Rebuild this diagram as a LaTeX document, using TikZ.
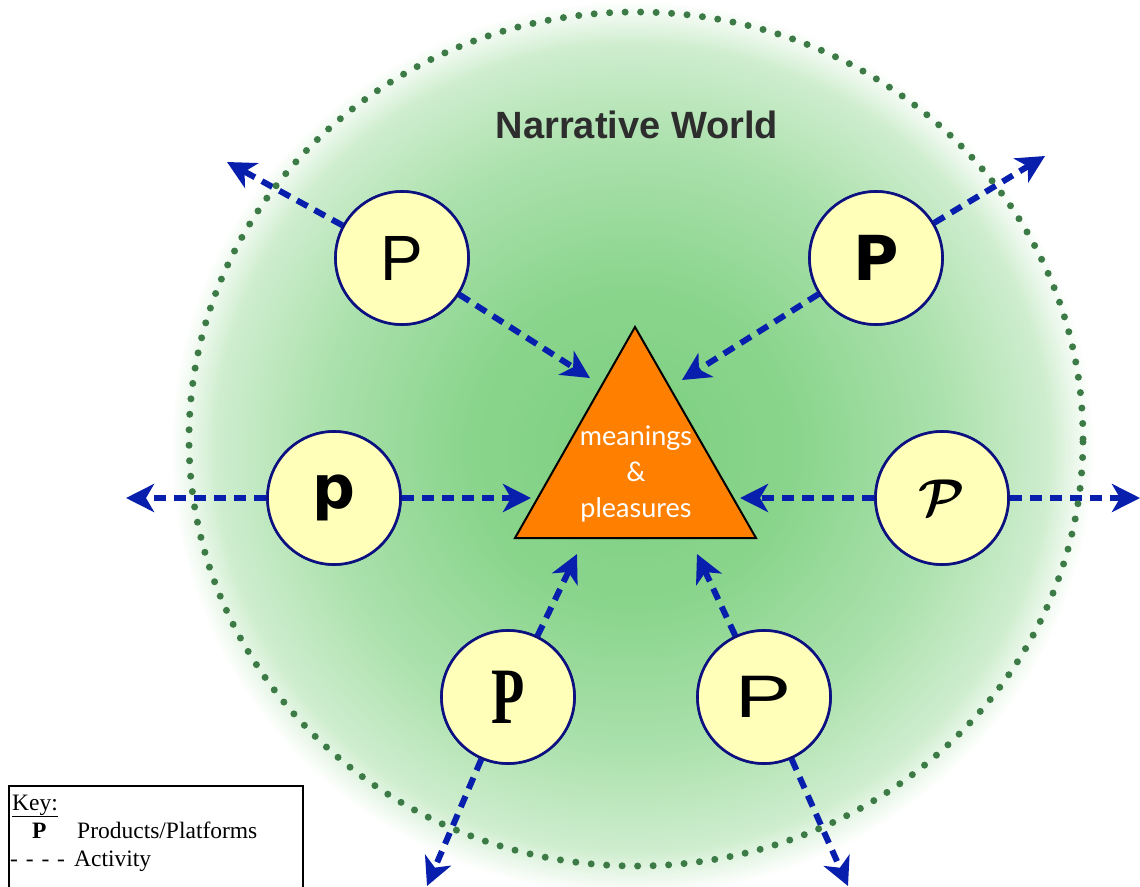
\documentclass[tikz,border=0pt]{standalone}
\usepackage{fontspec}
\usepackage{graphicx}
\setmainfont{Liberation Serif}
\newfontfamily\arialf{Liberation Sans}
\newfontfamily\dejaf{DejaVu Sans}
\newfontfamily\latof{Lato}
\usetikzlibrary{arrows.meta}
\definecolor{actblue}{RGB}{8,30,172}
\definecolor{navy}{RGB}{12,16,128}
\definecolor{pfill}{RGB}{255,255,185}
\definecolor{triorange}{RGB}{255,128,0}
\definecolor{dotgreen}{RGB}{60,122,70}
\definecolor{titlegray}{RGB}{45,45,45}
\definecolor{gA}{RGB}{124,207,128}
\definecolor{gB}{RGB}{138,213,141}
\definecolor{gC}{RGB}{172,225,173}
\definecolor{gD}{RGB}{206,237,206}
\definecolor{gE}{RGB}{236,248,236}
\pgfdeclareradialshading{nwshade}{\pgfpoint{0bp}{0bp}}{color(0bp)=(gA); color(9bp)=(gB); color(17bp)=(gC); color(22.5bp)=(gD); color(24bp)=(gE); color(25bp)=(white); color(50bp)=(white)}
\tikzset{
  pcirc/.style={circle, draw=navy, line width=2.6pt, fill=pfill, minimum size=133pt, inner sep=0pt},
  act/.style={draw=actblue, line width=6pt, dash pattern=on 12pt off 8pt,
    -{Stealth[length=28pt, width=28pt, inset=8pt, fill=actblue]}},
  keytext/.style={anchor=base west, inner sep=0pt, font=\fontsize{23.5}{23.5}\selectfont},
}
\newcommand{\pa}{\arialf\fontsize{64}{64}\selectfont P}
\newcommand{\pb}{\dejaf\bfseries\fontsize{62}{62}\selectfont P}
\newcommand{\pc}{\dejaf\bfseries\fontsize{60}{60}\selectfont p}
\newcommand{\pd}{\scalebox{2.5}{\huge\boldmath$\mathcal{P}$}}
\newcommand{\pe}{\scalebox{0.68}[1]{\bfseries\fontsize{80}{80}\selectfont P}}
\newcommand{\pf}{\scalebox{1.4}[1]{\arialf\fontsize{60}{60}\selectfont P}}
\begin{document}
\begin{tikzpicture}[x=1pt, y=-1pt]
\clip (0,0) rectangle (1140,886);
\fill[white] (0,0) rectangle (1140,886);
% background glow
\shade[shading=nwshade] (632,448) ellipse [x radius=462pt, y radius=448pt];
% title
\node[anchor=base, inner sep=0pt, text=titlegray, font=\arialf\bfseries\fontsize{38}{38}\selectfont] (title) at (637,138) {Narrative World};
% product circles
\node[pcirc] (p1) at (402,258) {\pa};
\node[pcirc] (p2) at (876,258) {\pb};
\node[pcirc] (p3) at (334,498) {\pc};
\node[pcirc] (p4) at (942,498) {\pd};
\node[pcirc] (p5) at (508,697) {\pe};
\node[pcirc] (p6) at (764,697) {\pf};
% triangle
\coordinate (ta) at (635,327);
\coordinate (tl) at (515,538);
\coordinate (tr) at (756,538);
\filldraw[fill=triorange, draw=black, line width=2pt, line join=miter] (ta) -- (tl) -- (tr) -- cycle;
\node[align=center, text=white, inner sep=0pt, font=\latof\fontsize{27}{36}\selectfont] (tri) at (636,474) {meanings\\\&\\pleasures};
% arrow end points
\coordinate (i1) at (590,378);
\coordinate (i2) at (682,380);
\coordinate (i3) at (531,498);
\coordinate (i4) at (740,498);
\coordinate (i5) at (577,554);
\coordinate (i6) at (697,554);
\coordinate (o1) at (227,162);
\coordinate (o2) at (1045,156);
\coordinate (o3) at (126,498);
\coordinate (o4) at (1140,498);
\coordinate (o5) at (427,886);
\coordinate (o6) at (848,886);
% activity arrows
\foreach \n in {1,...,6}{
  \draw[act] (p\n) -- (i\n);
  \draw[act] (p\n) -- (o\n);
}
% dotted boundary
\draw[dotgreen, line width=7pt, line cap=round, dash pattern=on 0pt off 15.5pt] (636,439) ellipse [x radius=447pt, y radius=427pt];
% circles above arrows
\node[pcirc] at (p1) {\pa};
\node[pcirc] at (p2) {\pb};
\node[pcirc] at (p3) {\pc};
\node[pcirc] at (p4) {\pd};
\node[pcirc] at (p5) {\pe};
\node[pcirc] at (p6) {\pf};
% key
\node[draw=black, fill=white, line width=2pt, anchor=north west, minimum width=294pt, minimum height=120pt, inner sep=0pt] (keybox) at (8,785) {};
\node[keytext] (keyk) at (12,810) {\underline{Key:}};
\node[keytext, font=\bfseries\fontsize{23.5}{23.5}\selectfont] (keyp) at (32,838) {P};
\node[keytext] (keypp) at (77,838) {Products/Platforms};
\node[keytext] (keyd) at (10,866) {-\,\,-\,\,-\,\,-};
\node[keytext] (keya) at (74,866) {Activity};
\end{tikzpicture}
\end{document}
